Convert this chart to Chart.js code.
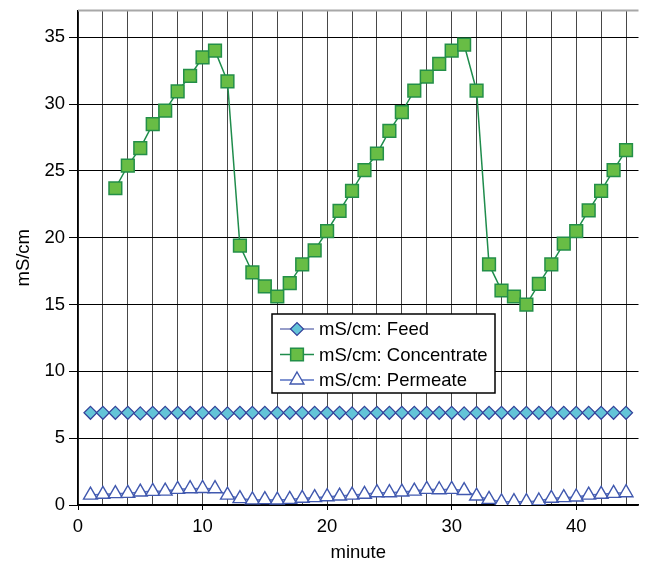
<!DOCTYPE html>
<html>
<head>
<meta charset="utf-8">
<title>mS/cm vs minute</title>
<script src="https://cdn.jsdelivr.net/npm/chart.js@4.4.1/dist/chart.umd.min.js"></script>
<style>
  html, body { margin: 0; padding: 0; background: #fff; overflow: hidden; }
  #wrap { width: 649px; height: 564px; }
</style>
</head>
<body>
<div id="wrap"><canvas id="chart" width="649" height="564"></canvas></div>
<script>
// Datos
const minutes = [1, 2, 3, 4, 5, 6, 7, 8, 9, 10, 11, 12, 13, 14, 15, 16, 17, 18, 19, 20, 21, 22,
                 23, 24, 25, 26, 27, 28, 29, 30, 31, 32, 33, 34, 35, 36, 37, 38, 39, 40, 41, 42, 43, 44];

const feed = [6.9, 6.9, 6.9, 6.9, 6.85, 6.9, 6.9, 6.9, 6.9, 6.9, 6.9, 6.85, 6.9, 6.9, 6.9, 6.9,
              6.9, 6.9, 6.9, 6.9, 6.9, 6.85, 6.9, 6.9, 6.9, 6.9, 6.9, 6.9, 6.9, 6.9, 6.85, 6.9,
              6.9, 6.9, 6.9, 6.9, 6.9, 6.9, 6.9, 6.9, 6.9, 6.9, 6.9, 6.9];

const concentrate = [null, null, 23.7, 25.4, 26.7, 28.5, 29.5, 30.95, 32.1, 33.5, 34.0, 31.7,
                     19.4, 17.4, 16.35, 15.6, 16.6, 18.0, 19.05, 20.5, 22.0, 23.5, 25.05, 26.3,
                     28.0, 29.4, 31.0, 32.05, 33.0, 34.0, 34.45, 31.0, 18.0, 16.05, 15.6, 15.0,
                     16.55, 18.0, 19.55, 20.5, 22.05, 23.5, 25.05, 26.55];

const permeate = [0.74, 0.80, 0.85, 0.87, 0.97, 1.02, 1.04, 1.17, 1.22, 1.24, 1.22, 0.74,
                  0.48, 0.38, 0.40, 0.37, 0.42, 0.50, 0.55, 0.62, 0.67, 0.74, 0.80, 0.92,
                  0.92, 0.97, 1.04, 1.17, 1.14, 1.17, 1.08, 0.67, 0.42, 0.24, 0.25, 0.25,
                  0.30, 0.50, 0.55, 0.60, 0.74, 0.80, 0.87, 0.92];

const seriesLabels = ['mS/cm: Feed', 'mS/cm: Concentrate', 'mS/cm: Permeate'];

// Ticks
const xTickValues = [0, 2, 4, 6, 8, 10, 12, 14, 16, 18, 20, 22, 24, 26, 28, 30, 32, 34, 36, 38, 40, 42, 44];
const xLabelValues = [0, 10, 20, 30, 40];
const yTickValues = [0, 5, 10, 15, 20, 25, 30, 35];

const FONT = '"Liberation Sans", Arial, Helvetica, sans-serif';
const FONT_SIZE = 18.5;

function toPoints(values) {
    return minutes
        .map((m, i) => ({ x: m, y: values[i] }))
        .filter(p => p.y !== null);
}

// Marco superior + leyenda dentro del área
const frameAndLegend = {
    id: 'frameAndLegend',
    afterDraw(chart, args, opts) {
        const { ctx, chartArea } = chart;
        ctx.save();

        // borde superior gris
        ctx.strokeStyle = '#a8a8a8';
        ctx.lineWidth = 2;
        ctx.beginPath();
        ctx.moveTo(chartArea.left, chartArea.top);
        ctx.lineTo(chartArea.right, chartArea.top);
        ctx.stroke();

        // caja de leyenda
        const b = opts.box;
        ctx.fillStyle = '#fff';
        ctx.fillRect(b.x, b.y, b.w, b.h);
        ctx.strokeStyle = '#000';
        ctx.lineWidth = 1.5;
        ctx.strokeRect(b.x, b.y, b.w, b.h);

        chart.data.datasets.forEach((ds, i) => {
            const y = b.y + b.firstRow + i * b.rowGap;

            ctx.strokeStyle = ds.borderColor;
            ctx.lineWidth = ds.borderWidth;
            ctx.beginPath();
            ctx.moveTo(b.lineX1, y);
            ctx.lineTo(b.lineX2, y);
            ctx.stroke();

            ctx.fillStyle = ds.pointBackgroundColor;
            ctx.strokeStyle = ds.pointBorderColor;
            ctx.lineWidth = ds.pointBorderWidth;
            Chart.helpers.drawPoint(ctx, {
                pointStyle: ds.pointStyle,
                radius: ds.pointRadius,
                rotation: 0,
                borderWidth: ds.pointBorderWidth
            }, (b.lineX1 + b.lineX2) / 2, y);

            ctx.fillStyle = '#000';
            ctx.font = `${FONT_SIZE}px ${FONT}`;
            ctx.textBaseline = 'middle';
            ctx.textAlign = 'left';
            ctx.fillText(ds.label, b.textX, y + 1);
        });

        ctx.restore();
    }
};

function init() {
    const ctx = document.getElementById('chart').getContext('2d');

    new Chart(ctx, {
        type: 'line',
        data: {
            datasets: [
                {
                    label: seriesLabels[0],
                    data: toPoints(feed),
                    borderColor: '#2e3c94',
                    borderWidth: 1,
                    pointStyle: 'rectRot',
                    pointRadius: 6.5,
                    pointBackgroundColor: '#63c4d8',
                    pointBorderColor: '#34429a',
                    pointBorderWidth: 1.2
                },
                {
                    label: seriesLabels[1],
                    data: toPoints(concentrate),
                    borderColor: '#1f8c4c',
                    borderWidth: 1.5,
                    pointStyle: 'rect',
                    pointRadius: 9,
                    pointBackgroundColor: '#68bd45',
                    pointBorderColor: '#238f48',
                    pointBorderWidth: 1.5
                },
                {
                    label: seriesLabels[2],
                    data: toPoints(permeate),
                    borderColor: '#5670c2',
                    borderWidth: 1.5,
                    pointStyle: 'triangle',
                    pointRadius: 8,
                    pointBackgroundColor: '#ffffff',
                    pointBorderColor: '#4159af',
                    pointBorderWidth: 1.4
                }
            ]
        },
        options: {
            responsive: false,
            animation: false,
            events: [],
            layout: { padding: { top: 7, left: 0, right: 0, bottom: 0 } },
            elements: { line: { tension: 0 } },
            plugins: {
                legend: { display: false },
                tooltip: { enabled: false },
                frameAndLegend: {
                    box: { x: 272, y: 314, w: 223, h: 79, firstRow: 15, rowGap: 25.5,
                           lineX1: 280, lineX2: 314, textX: 319 }
                }
            },
            scales: {
                x: {
                    type: 'linear',
                    min: 0,
                    max: 45,
                    afterBuildTicks: s => { s.ticks = xTickValues.map(v => ({ value: v })); },
                    afterFit: s => { s.height = 59; s.paddingLeft = 0; s.paddingRight = 0; },
                    ticks: {
                        autoSkip: false,
                        maxRotation: 0,
                        padding: 6,
                        color: '#000',
                        font: { family: FONT, size: FONT_SIZE },
                        callback: v => xLabelValues.includes(v) ? String(v) : ''
                    },
                    grid: {
                        color: 'rgba(0,0,0,0.72)',
                        lineWidth: 1,
                        tickLength: 5,
                        tickColor: c => (c.tick && xLabelValues.includes(c.tick.value)) ? '#000' : 'rgba(0,0,0,0)'
                    },
                    border: { color: '#000', width: 1.5 },
                    title: {
                        display: true,
                        text: 'minute',
                        color: '#000',
                        font: { family: FONT, size: FONT_SIZE },
                        padding: { top: 1, bottom: 0 }
                    }
                },
                y: {
                    type: 'linear',
                    min: 0,
                    max: 37,
                    afterBuildTicks: s => { s.ticks = yTickValues.map(v => ({ value: v })); },
                    afterFit: s => { s.width = 78; s.paddingTop = 0; s.paddingBottom = 0; },
                    ticks: {
                        padding: 4,
                        color: '#000',
                        font: { family: FONT, size: FONT_SIZE }
                    },
                    grid: {
                        color: '#000',
                        lineWidth: 1,
                        tickLength: 9,
                        tickColor: '#000'
                    },
                    border: { color: '#000', width: 1.5 },
                    title: {
                        display: true,
                        text: 'mS/cm',
                        color: '#000',
                        font: { family: FONT, size: FONT_SIZE },
                        padding: { top: 13, bottom: 0 }
                    }
                }
            }
        },
        plugins: [frameAndLegend]
    });
}

document.addEventListener('DOMContentLoaded', init);
</script>
</body>
</html>
